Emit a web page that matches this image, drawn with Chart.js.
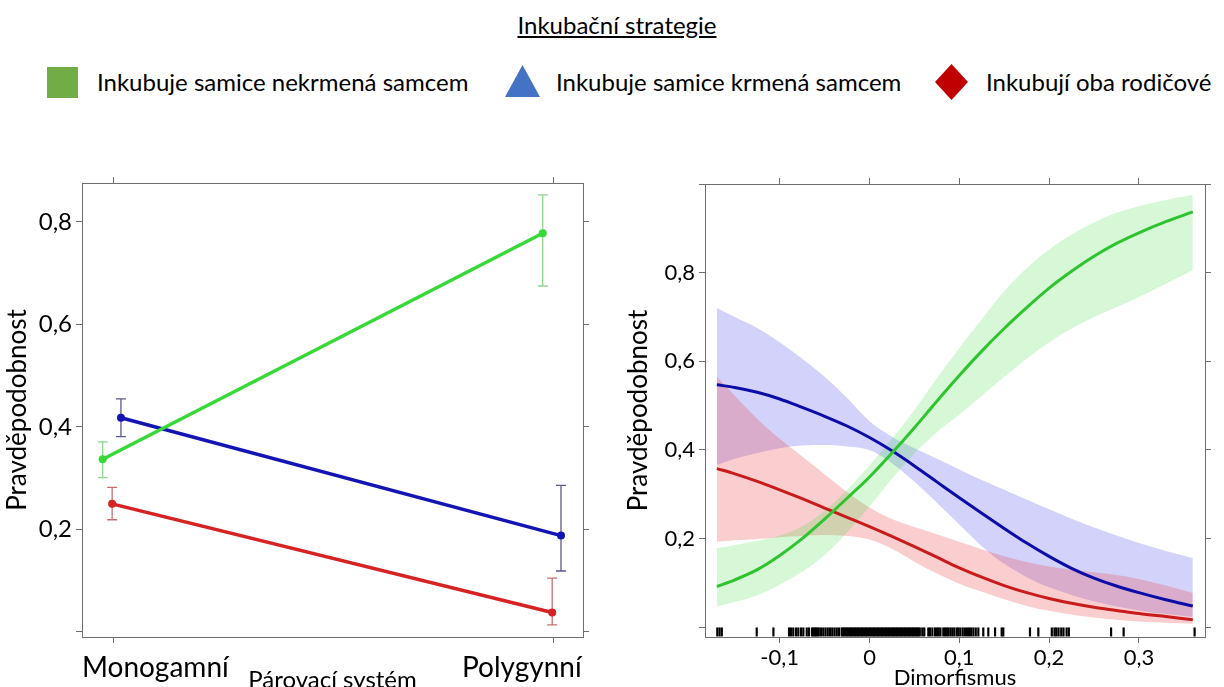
<!DOCTYPE html>
<html lang="cs">
<head>
<meta charset="utf-8">
<script src="https://cdn.jsdelivr.net/npm/chart.js@4.4.0/dist/chart.umd.min.js"></script>
<style>
  html,body{margin:0;padding:0;background:#fff;width:1224px;height:687px;overflow:hidden;font-family:Lato,sans-serif;color:#000;}
  .abs{position:absolute;white-space:nowrap;}
  #title{left:0;width:1234px;top:13px;text-align:center;font-size:24px;line-height:24px;text-decoration:underline;}
  .legtxt{top:66px;font-size:24px;line-height:32px;}
  .mark{position:absolute;}
  #mGreen{left:47px;top:67px;width:31px;height:31px;background:#70ad47;}
  #mBlue{left:505px;top:65px;width:35px;height:32px;background:#4472c4;clip-path:polygon(50% 0,100% 100%,0 100%);}
  #mRed{left:935px;top:64px;width:33px;height:36px;background:#c00000;clip-path:polygon(50% 0,100% 50%,50% 100%,0 50%);}
  .cat{top:652px;font-size:28px;line-height:28px;}
  canvas{position:absolute;}
</style>
</head>
<body>
<div id="title" class="abs">Inkubační strategie</div>
<div id="mGreen" class="mark"></div>
<div class="abs legtxt" style="left:97px">Inkubuje samice nekrmená samcem</div>
<div id="mBlue" class="mark"></div>
<div class="abs legtxt" style="left:556px">Inkubuje samice krmená samcem</div>
<div id="mRed" class="mark"></div>
<div class="abs legtxt" style="left:986px">Inkubují oba rodičové</div>

<canvas id="left" width="600" height="560" style="left:0;top:150px"></canvas>
<canvas id="right" width="624" height="560" style="left:600px;top:150px"></canvas>
<div class="abs cat" style="left:82px">Monogamní</div>
<div class="abs cat" style="left:462px">Polygynní</div>

<script>
// --- levý panel: párovací systém (1 = monogamní, 2 = polygynní)
const systemX = [1, 2];
const greenMean = [0.337, 0.778], greenLo = [0.301, 0.675], greenHi = [0.371, 0.853];
const blueMean  = [0.418, 0.188], blueLo  = [0.381, 0.119], blueHi  = [0.455, 0.286];
const redMean   = [0.250, 0.038], redLo   = [0.219, 0.014], redHi   = [0.282, 0.105];
const leftYTicks = [0, 0.2, 0.4, 0.6, 0.8];

// --- pravý panel: dimorfismus
const dimX = [-0.17, -0.15, -0.125, -0.1, -0.075, -0.05, -0.025, 0, 0.025, 0.05, 0.075, 0.1, 0.125, 0.15, 0.175, 0.2, 0.225, 0.25, 0.275, 0.3, 0.33, 0.36];
const greenFit   = [0.092, 0.107, 0.130, 0.162, 0.200, 0.244, 0.291, 0.339, 0.393, 0.450, 0.510, 0.568, 0.623, 0.674, 0.721, 0.765, 0.803, 0.837, 0.866, 0.890, 0.915, 0.937];
const greenUpper = [0.178, 0.185, 0.195, 0.207, 0.228, 0.262, 0.310, 0.365, 0.425, 0.490, 0.562, 0.630, 0.695, 0.758, 0.810, 0.852, 0.886, 0.913, 0.935, 0.950, 0.964, 0.975];
const greenLower = [0.047, 0.057, 0.072, 0.096, 0.125, 0.163, 0.214, 0.273, 0.335, 0.392, 0.440, 0.480, 0.522, 0.565, 0.606, 0.643, 0.674, 0.700, 0.722, 0.745, 0.775, 0.806];
const blueFit    = [0.547, 0.541, 0.530, 0.515, 0.496, 0.476, 0.454, 0.428, 0.398, 0.364, 0.328, 0.292, 0.257, 0.223, 0.190, 0.160, 0.133, 0.111, 0.093, 0.078, 0.062, 0.048];
const blueUpper  = [0.720, 0.700, 0.675, 0.643, 0.606, 0.565, 0.517, 0.465, 0.430, 0.404, 0.380, 0.356, 0.332, 0.310, 0.288, 0.266, 0.245, 0.225, 0.207, 0.190, 0.172, 0.156];
const blueLower  = [0.366, 0.380, 0.393, 0.404, 0.410, 0.411, 0.408, 0.400, 0.370, 0.328, 0.281, 0.232, 0.183, 0.143, 0.113, 0.090, 0.073, 0.058, 0.047, 0.038, 0.030, 0.023];
const redFit     = [0.358, 0.346, 0.329, 0.310, 0.290, 0.269, 0.248, 0.227, 0.205, 0.182, 0.158, 0.134, 0.113, 0.094, 0.078, 0.065, 0.054, 0.045, 0.038, 0.031, 0.024, 0.017];
const redUpper   = [0.565, 0.522, 0.470, 0.425, 0.385, 0.345, 0.305, 0.270, 0.244, 0.226, 0.210, 0.193, 0.176, 0.160, 0.147, 0.137, 0.130, 0.124, 0.118, 0.109, 0.094, 0.077];
const redLower   = [0.193, 0.196, 0.199, 0.203, 0.206, 0.208, 0.206, 0.198, 0.177, 0.148, 0.121, 0.098, 0.080, 0.063, 0.048, 0.037, 0.029, 0.022, 0.017, 0.013, 0.010, 0.008];
// rug – pozorované hodnoty dimorfismu
const rugX = [-0.1695, -0.167, -0.1645, -0.1256, -0.107,
  -0.0896, -0.0874, -0.0849, -0.0818, -0.0793, -0.0763, -0.0737, -0.0699, -0.0674,
  -0.064, -0.0625, -0.061, -0.0595, -0.058, -0.0565,
  -0.054, -0.0515, -0.049, -0.0465, -0.044, -0.0415, -0.039, -0.0365, -0.034,
  -0.031, -0.0295, -0.028, -0.0265, -0.025, -0.0235, -0.022, -0.0205, -0.019, -0.0175, -0.016, -0.0145, -0.013, -0.0115, -0.01, -0.0085,
  -0.007, -0.0055, -0.004, -0.0025, -0.001, 0.0005, 0.002, 0.0035, 0.005, 0.0065, 0.008, 0.0095, 0.011, 0.0125, 0.014, 0.0155, 0.017,
  0.0185, 0.02, 0.0215, 0.023, 0.0245, 0.026, 0.0275, 0.029, 0.0305, 0.032, 0.0335, 0.035, 0.0365, 0.038, 0.0395, 0.041, 0.0425, 0.044,
  0.0455, 0.047, 0.0485, 0.05, 0.0515, 0.053, 0.0545, 0.056,
  0.0588, 0.061, 0.0655, 0.0674, 0.070, 0.073, 0.075, 0.077, 0.079,
  0.0822, 0.084, 0.086, 0.0877, 0.090, 0.0922, 0.0944, 0.0971, 0.0989, 0.1011, 0.1038, 0.1063, 0.1086, 0.1108, 0.113, 0.1156, 0.1183, 0.1212,
  0.1267, 0.1323, 0.1398, 0.1472, 0.149, 0.1787, 0.188,
  0.203, 0.206, 0.208, 0.2105, 0.2135, 0.216, 0.2195, 0.222, 0.269, 0.283, 0.362];
const rightXTicks = [-0.1, 0, 0.1, 0.2, 0.3];
const rightYTicks = [0, 0.2, 0.4, 0.6, 0.8, 1.0];

const AXIS = '#6e6e6e';
const comma = v => v.toFixed(1).replace('.', ',');

function axis(pos, min, max, ticks, size, o) {
  o = o || {};
  return {
    type: 'linear', axis: (pos === 'top' || pos === 'bottom') ? 'x' : 'y', position: pos, min, max,
    afterBuildTicks: s => { s.ticks = ticks.map(v => ({ value: v })); },
    afterFit: s => { if (s.isHorizontal()) s.height = size; else s.width = size; },
    grid: { drawOnChartArea: false, drawTicks: true, tickLength: 6, color: AXIS, lineWidth: 1 },
    border: { display: true, color: AXIS, width: 1 },
    ticks: { display: !!o.label, padding: o.pad || 4, color: '#000', font: { family: 'Lato', size: o.fs || 22 }, callback: o.label, maxRotation: 0, autoSkip: false },
    title: o.title ? { display: true, text: o.title, color: '#000', font: { family: 'Lato', size: o.tfs }, padding: o.tpad } : { display: false }
  };
}

// chybové úsečky levého panelu
const errorBars = {
  id: 'errorBars',
  beforeDatasetsDraw(chart) {
    const { ctx, scales: { x, y } } = chart;
    chart.data.datasets.forEach(ds => {
      if (!ds.errLo) return;
      ds.data.forEach((p, i) => {
        const px = x.getPixelForValue(p.x);
        const top = y.getPixelForValue(ds.errHi[i]), bot = y.getPixelForValue(ds.errLo[i]);
        ctx.save();
        ctx.strokeStyle = ds.errColor; ctx.lineWidth = 1.3;
        ctx.beginPath();
        ctx.moveTo(px, top); ctx.lineTo(px, bot);
        ctx.moveTo(px - 5, top); ctx.lineTo(px + 5, top);
        ctx.moveTo(px - 5, bot); ctx.lineTo(px + 5, bot);
        ctx.stroke();
        ctx.restore();
      });
    });
  }
};

function catLine(mean, lo, hi, shift, color, errColor) {
  return {
    data: systemX.map((x, i) => ({ x: x + shift, y: mean[i] })),
    errLo: lo, errHi: hi, errColor,
    borderColor: color, backgroundColor: color, borderWidth: 3.5,
    pointRadius: 4, pointBorderWidth: 0, tension: 0
  };
}

new Chart(document.getElementById('left'), {
  type: 'line',
  data: { datasets: [
    catLine(greenMean, greenLo, greenHi, -0.0235, '#36d936', '#8fd88f'),
    catLine(blueMean, blueLo, blueHi, 0.018, '#1414b4', '#5a5a8c'),
    catLine(redMean, redLo, redHi, -0.002, '#d62222', '#c47070')
  ]},
  options: {
    responsive: false, animation: false, events: [],
    layout: { padding: 0 },
    plugins: { legend: { display: false }, tooltip: { enabled: false } },
    scales: {
      x: axis('bottom', 0.9295, 2.068, systemX, 73, { title: 'Párovací systém', tfs: 24, tpad: { bottom: 15 } }),
      x2: axis('top', 0.9295, 2.068, systemX, 33),
      y: axis('left', -0.0098, 0.876, leftYTicks, 82, { label: v => v === 0 ? '' : comma(v), fs: 24, title: 'Pravděpodobnost', tfs: 26, tpad: { top: 2 } }),
      y2: axis('right', -0.0098, 0.876, leftYTicks, 17)
    }
  },
  plugins: [errorBars]
});

const pts = vals => dimX.map((x, i) => ({ x, y: vals[i] }));
const fitLine = (vals, color) => ({ data: pts(vals), borderColor: color, borderWidth: 3, pointRadius: 0, cubicInterpolationMode: 'monotone', fill: false, order: 0 });
const bandLo = vals => ({ data: pts(vals), borderWidth: 0, borderColor: 'transparent', pointRadius: 0, cubicInterpolationMode: 'monotone', fill: false, order: 1 });
const bandHi = (vals, target, color) => ({ data: pts(vals), borderWidth: 0, borderColor: 'transparent', pointRadius: 0, cubicInterpolationMode: 'monotone', fill: { target }, backgroundColor: color, order: 1 });

new Chart(document.getElementById('right'), {
  type: 'line',
  data: { datasets: [
    bandLo(greenLower), bandHi(greenUpper, 0, 'rgba(50,220,50,0.2)'),
    bandLo(redLower), bandHi(redUpper, 2, 'rgba(235,60,60,0.25)'),
    bandLo(blueLower), bandHi(blueUpper, 4, 'rgba(60,60,235,0.23)'),
    fitLine(greenFit, '#2fc42f'),
    fitLine(blueFit, '#0c0ca8'),
    fitLine(redFit, '#c81c1c'),
    { data: rugX.map(x => ({ x, y: -0.0106 })), showLine: false, pointStyle: 'line', pointRotation: 90,
      pointRadius: 4.5, pointBorderColor: '#000', pointBorderWidth: 2.2, borderColor: '#000', order: 0 }
  ]},
  options: {
    responsive: false, animation: false, events: [],
    layout: { padding: 0 },
    plugins: { legend: { display: false }, tooltip: { enabled: false } },
    scales: {
      x: axis('bottom', -0.1832, 0.3736, rightXTicks, 73, { label: v => v === 0 ? '0' : comma(v), fs: 22, pad: 2, title: 'Dimorfismus', tfs: 22, tpad: { bottom: 19 } }),
      x2: axis('top', -0.1832, 0.3736, rightXTicks, 34),
      y: axis('left', -0.022, 1.0, rightYTicks, 105, { label: v => (v === 0 || v === 1) ? '' : comma(v), fs: 22, title: 'Pravděpodobnost', tfs: 26, tpad: { top: 23 } }),
      y2: axis('right', -0.022, 1.0, rightYTicks, 19)
    }
  }
});
</script>
</body>
</html>
